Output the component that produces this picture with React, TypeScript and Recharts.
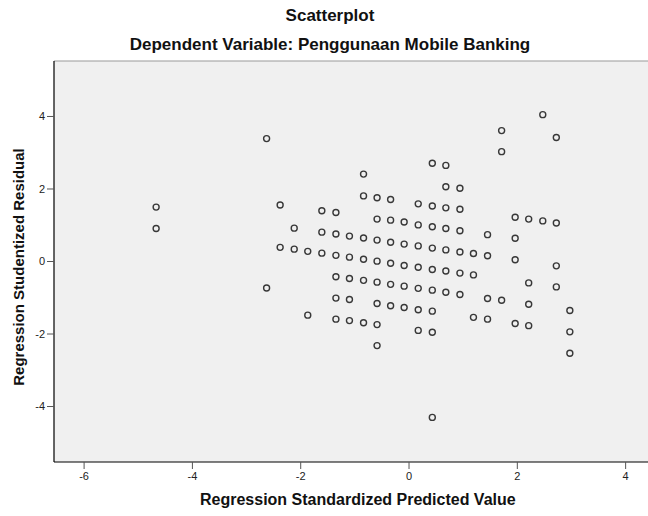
import React from 'react';
import {
  ScatterChart,
  Scatter,
  XAxis,
  YAxis,
  CartesianGrid,
  ReferenceLine,
} from 'recharts';

// Regression Standardized Predicted Value
const predicted = [
  -4.67, -4.67,
  -2.63, -2.63,
  -2.38, -2.38,
  -2.12, -2.12,
  -1.87, -1.87,
  -1.61, -1.61, -1.61,
  -1.35, -1.35, -1.35, -1.35, -1.35, -1.35,
  -1.1, -1.1, -1.1, -1.1, -1.1,
  -0.84, -0.84, -0.84, -0.84, -0.84, -0.84,
  -0.59, -0.59, -0.59, -0.59, -0.59, -0.59, -0.59, -0.59,
  -0.34, -0.34, -0.34, -0.34, -0.34, -0.34,
  -0.09, -0.09, -0.09, -0.09, -0.09,
  0.17, 0.17, 0.17, 0.17, 0.17, 0.17, 0.17,
  0.43, 0.43, 0.43, 0.43, 0.43, 0.43, 0.43, 0.43, 0.43,
  0.68, 0.68, 0.68, 0.68, 0.68, 0.68, 0.68,
  0.94, 0.94, 0.94, 0.94, 0.94, 0.94,
  1.19, 1.19, 1.19,
  1.45, 1.45, 1.45, 1.45,
  1.71, 1.71, 1.71,
  1.96, 1.96, 1.96, 1.96,
  2.21, 2.21, 2.21, 2.21,
  2.47, 2.47,
  2.72, 2.72, 2.72, 2.72,
  2.97, 2.97, 2.97,
];

// Regression Studentized Residual
const residual = [
  1.5, 0.91,
  3.39, -0.73,
  1.56, 0.39,
  0.92, 0.34,
  0.28, -1.48,
  1.4, 0.81, 0.23,
  1.35, 0.76, 0.17, -0.42, -1.01, -1.59,
  0.7, 0.12, -0.47, -1.05, -1.63,
  2.41, 1.81, 0.65, 0.06, -0.52, -1.69,
  1.76, 1.17, 0.59, 0.01, -0.57, -1.16, -1.74, -2.32,
  1.71, 1.14, 0.53, -0.05, -0.63, -1.22,
  1.09, 0.48, -0.11, -0.68, -1.27,
  1.59, 1.01, 0.43, -0.16, -0.74, -1.33, -1.9,
  2.71, 1.53, 0.96, 0.37, -0.22, -0.79, -1.37, -1.95, -4.3,
  2.65, 2.06, 1.48, 0.91, 0.32, -0.26, -0.85,
  2.02, 1.44, 0.85, 0.26, -0.32, -0.91,
  0.22, -0.37, -1.54,
  0.74, 0.16, -1.02, -1.59,
  3.61, 3.03, -1.07,
  1.22, 0.64, 0.05, -1.71,
  1.17, -0.59, -1.18, -1.77,
  4.05, 1.12,
  3.42, 1.06, -0.12, -0.7,
  -1.35, -1.94, -2.53,
];

const xTicks = [-6, -4, -2, 0, 2, 4];
const yTicks = [-4, -2, 0, 2, 4];

const title = 'Scatterplot';
const subtitle = 'Dependent Variable: Penggunaan Mobile Banking';
const xLabel = 'Regression Standardized Predicted Value';
const yLabel = 'Regression Studentized Residual';

const data = predicted.map((x, i) => ({ x, y: residual[i] }));

const font = '"Liberation Sans", Arial, sans-serif';

const Ring = (props: any) => (
  <circle cx={props.cx} cy={props.cy} r={3} fill="none" stroke="#383838" strokeWidth={1.4} />
);

export default function App() {
  return (
    <div
      style={{
        position: 'absolute',
        left: 0,
        top: 0,
        width: 648,
        height: 516,
        overflow: 'hidden',
        background: '#fff',
        fontFamily: font,
      }}
    >
      <div style={{ position: 'absolute', left: 0, width: 660, top: 6, textAlign: 'center', fontSize: 17, fontWeight: 'bold', color: '#111' }}>
        {title}
      </div>
      <div style={{ position: 'absolute', left: 0, width: 660, top: 35, textAlign: 'center', fontSize: 17, fontWeight: 'bold', color: '#111' }}>
        {subtitle}
      </div>
      <ScatterChart width={660} height={516} margin={{ top: 61, right: 10, bottom: 0, left: 0 }}>
        <CartesianGrid fill="#F0F0F0" horizontal={false} vertical={false} />
        <XAxis
          type="number"
          dataKey="x"
          domain={[-6.556, 4.45]}
          ticks={xTicks}
          allowDataOverflow
          height={54}
          tickSize={7}
          tickMargin={3}
          axisLine={{ stroke: '#000', strokeWidth: 1.2 }}
          tickLine={{ stroke: '#555' }}
          tick={{ fill: '#222', fontSize: 11, fontFamily: font }}
        />
        <YAxis
          type="number"
          dataKey="y"
          domain={[-5.53, 5.53]}
          ticks={yTicks}
          allowDataOverflow
          width={54}
          tickSize={7}
          tickMargin={2}
          axisLine={{ stroke: '#000', strokeWidth: 1.2 }}
          tickLine={{ stroke: '#555' }}
          tick={{ fill: '#222', fontSize: 11, fontFamily: font }}
        />
        <ReferenceLine y={5.53} stroke="#999" strokeWidth={1} ifOverflow="extendDomain" />
        <Scatter data={data} shape={Ring} isAnimationActive={false} />
      </ScatterChart>
      <div style={{ position: 'absolute', left: 200, width: 314, top: 491, textAlign: 'center', fontSize: 16, fontWeight: 'bold', color: '#111', whiteSpace: 'nowrap' }}>
        {xLabel}
      </div>
      <div
        style={{
          position: 'absolute',
          left: 20 - 150,
          width: 300,
          top: 267 - 10,
          height: 20,
          textAlign: 'center',
          fontSize: 15,
          fontWeight: 'bold',
          color: '#111',
          whiteSpace: 'nowrap',
          transform: 'rotate(-90deg)',
        }}
      >
        {yLabel}
      </div>
    </div>
  );
}
